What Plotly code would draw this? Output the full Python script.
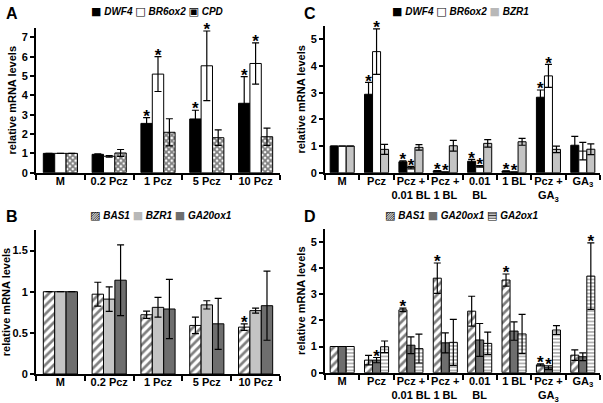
import plotly.graph_objects as go

# ---------------- data ----------------
A_cats = ["M", "0.2 Pcz", "1 Pcz", "5 Pcz", "10 Pcz"]
A_DWF4 = [1, 0.95, 2.55, 2.78, 3.59]
A_DWF4_err = [0, 0.03, 0.30, 0.45, 1.38]
A_BR6ox2 = [1, 0.85, 5.10, 5.53, 5.65]
A_BR6ox2_err = [0, 0.04, 0.90, 1.80, 1.07]
A_CPD = [1, 1.02, 2.09, 1.81, 1.86]
A_CPD_err = [0, 0.18, 0.70, 0.40, 0.45]
A_DWF4_sig = [0, 0, 1, 1, 1]
A_BR6ox2_sig = [0, 0, 1, 1, 1]
A_CPD_sig = [0, 0, 0, 0, 0]

B_cats = ["M", "0.2 Pcz", "1 Pcz", "5 Pcz", "10 Pcz"]
B_BAS1 = [1, 0.97, 0.72, 0.59, 0.57]
B_BAS1_err = [0, 0.145, 0.045, 0.10, 0.04]
B_BZR1 = [1, 0.91, 0.81, 0.84, 0.77]
B_BZR1_err = [0, 0.15, 0.12, 0.05, 0.03]
B_GA20ox1 = [1, 1.14, 0.79, 0.61, 0.83]
B_GA20ox1_err = [0, 0.43, 0.36, 0.31, 0.42]
B_BAS1_sig = [0, 0, 0, 0, 1]
B_BZR1_sig = [0, 0, 0, 0, 0]
B_GA20ox1_sig = [0, 0, 0, 0, 0]

CD_cats = ["M", "Pcz", "Pcz +<br>0.01 BL", "Pcz +<br>1 BL", "0.01<br>BL",
           "1 BL", "Pcz +<br>GA<sub>3</sub>", "GA<sub>3</sub>"]
C_DWF4 = [1, 2.94, 0.41, 0.07, 0.43, 0.06, 2.83, 1.03]
C_DWF4_err = [0, 0.45, 0.03, 0.01, 0.07, 0.01, 0.27, 0.33]
C_BR6ox2 = [1, 4.54, 0.19, 0.02, 0.24, 0.02, 3.63, 0.81]
C_BR6ox2_err = [0, 0.85, 0.05, 0.01, 0.03, 0.01, 0.43, 0.33]
C_BZR1 = [1, 0.875, 0.95, 1.01, 1.10, 1.16, 0.875, 0.88]
C_BZR1_err = [0, 0.19, 0.10, 0.20, 0.14, 0.13, 0.12, 0.20]
C_DWF4_sig = [0, 1, 1, 1, 1, 1, 1, 0]
C_BR6ox2_sig = [0, 1, 1, 1, 1, 1, 1, 0]
C_BZR1_sig = [0, 0, 0, 0, 0, 0, 0, 0]

D_BAS1 = [1, 0.48, 2.40, 3.61, 2.35, 3.54, 0.30, 0.67]
D_BAS1_err = [0, 0.18, 0.07, 0.58, 0.57, 0.23, 0.04, 0.20]
D_GA20ox1 = [1, 0.48, 1.05, 1.14, 1.25, 1.59, 0.19, 0.61]
D_GA20ox1_err = [0, 0.10, 0.32, 0.38, 0.63, 0.35, 0.07, 0.15]
D_GA2ox1 = [1, 0.99, 0.92, 1.16, 1.12, 1.48, 1.63, 3.69]
D_GA2ox1_err = [0, 0.22, 0.55, 0.88, 0.43, 0.75, 0.17, 1.27]
D_BAS1_sig = [0, 0, 1, 1, 0, 1, 1, 0]
D_GA20ox1_sig = [0, 1, 0, 0, 0, 0, 1, 0]
D_GA2ox1_sig = [0, 0, 0, 0, 0, 0, 0, 1]

# ---------------- styles ----------------
FONT = "Liberation Sans, Arial, sans-serif"
STY = {
    "DWF4": dict(color="black", pattern=None, sym="■", symcol="black"),
    "BR6ox2": dict(color="white", pattern=None, sym="□", symcol="black"),
    "CPD": dict(color="white", pattern=dict(shape="x", fgcolor="black", bgcolor="white",
                                            size=4, solidity=0.7), sym="▣", symcol="black"),
    "BZR1": dict(color="#c4c4c4", pattern=None, sym="■", symcol="#b8b8b8"),
    "GA20ox1": dict(color="#6e6e6e", pattern=None, sym="■", symcol="#6e6e6e"),
    "BAS1": dict(color="white", pattern=dict(shape="/", fgcolor="black", bgcolor="white",
                                             size=6, solidity=0.45), sym="▨", symcol="black"),
    "GA2ox1": dict(color="white", pattern=dict(shape="-", fgcolor="black", bgcolor="white",
                                               size=3.5, solidity=0.3), sym="▤", symcol="black"),
}

fig = go.Figure()

panels = [
    ("x", "y", A_cats, [("DWF4", A_DWF4, A_DWF4_err, A_DWF4_sig),
                        ("BR6ox2", A_BR6ox2, A_BR6ox2_err, A_BR6ox2_sig),
                        ("CPD", A_CPD, A_CPD_err, A_CPD_sig)]),
    ("x2", "y2", CD_cats, [("DWF4", C_DWF4, C_DWF4_err, C_DWF4_sig),
                           ("BR6ox2", C_BR6ox2, C_BR6ox2_err, C_BR6ox2_sig),
                           ("BZR1", C_BZR1, C_BZR1_err, C_BZR1_sig)]),
    ("x3", "y3", B_cats, [("BAS1", B_BAS1, B_BAS1_err, B_BAS1_sig),
                          ("BZR1", B_BZR1, B_BZR1_err, B_BZR1_sig),
                          ("GA20ox1", B_GA20ox1, B_GA20ox1_err, B_GA20ox1_sig)]),
    ("x4", "y4", CD_cats, [("BAS1", D_BAS1, D_BAS1_err, D_BAS1_sig),
                           ("GA20ox1", D_GA20ox1, D_GA20ox1_err, D_GA20ox1_sig),
                           ("GA2ox1", D_GA2ox1, D_GA2ox1_err, D_GA2ox1_sig)]),
]

for xa, ya, cats, series in panels:
    for gi, (name, vals, errs, sig) in enumerate(series):
        s = STY[name]
        marker = dict(color=s["color"], line=dict(color="black", width=1))
        if s["pattern"]:
            marker["pattern"] = s["pattern"]
        fig.add_trace(go.Bar(
            x=cats, y=vals, name=name, xaxis=xa, yaxis=ya, offsetgroup=str(gi),
            marker=marker, showlegend=False,
            error_y=dict(type="data", array=errs, visible=True, color="black",
                         thickness=1.2, width=3.5),
        ))
        sx = [c for c, g in zip(cats, sig) if g]
        sy = [v + e for v, e, g in zip(vals, errs, sig) if g]
        if sx:
            fig.add_trace(go.Scatter(
                x=sx, y=sy, mode="text", text=["*"] * len(sx),
                textposition="middle center", xaxis=xa, yaxis=ya, offsetgroup=str(gi),
                textfont=dict(family=FONT, size=17, color="black", weight="bold"),
                showlegend=False, hoverinfo="skip", cliponaxis=False,
            ))

xcommon = dict(type="category", showline=True, linecolor="black", linewidth=2,
               ticks="outside", tickson="boundaries", ticklen=5, tickwidth=1.5,
               tickcolor="black", showgrid=False, zeroline=False, tickangle=0,
               automargin=False, ticklabelstandoff=-3,
               tickfont=dict(family=FONT, size=11, color="black", weight="bold"))
ycommon = dict(showline=True, linecolor="black", linewidth=2, ticks="outside",
               ticklen=4, tickwidth=1.5, tickcolor="black", showgrid=False,
               zeroline=False, automargin=False,
               tickfont=dict(family=FONT, size=11, color="black", weight="bold"),
               title=dict(text="relative mRNA levels", standoff=3,
                          font=dict(family=FONT, size=11, color="black", weight="bold")))

W, H = 603, 403
def px_x(p):
    return p / W
def px_y(p):
    return 1 - p / H

fig.update_layout(
    width=W, height=H, margin=dict(l=0, r=0, t=0, b=0, autoexpand=False),
    paper_bgcolor="white", plot_bgcolor="white",
    barmode="group", bargap=0.3, bargroupgap=0, scattermode="group", scattergap=0.3,
    font=dict(family=FONT, color="black"),
    xaxis=dict(xcommon, domain=[px_x(36), px_x(280)], anchor="y",
               categoryorder="array", categoryarray=A_cats),
    yaxis=dict(ycommon, domain=[px_y(172.7), px_y(27.7)], range=[0, 7.5], dtick=1, anchor="x"),
    xaxis2=dict(xcommon, domain=[px_x(325), px_x(600)], anchor="y2",
                categoryorder="array", categoryarray=CD_cats),
    yaxis2=dict(ycommon, domain=[px_y(172.7), px_y(26)], range=[0, 5.5], dtick=1, anchor="x2"),
    xaxis3=dict(xcommon, domain=[px_x(36), px_x(280)], anchor="y3",
                categoryorder="array", categoryarray=B_cats),
    yaxis3=dict(ycommon, domain=[px_y(374), px_y(230)], range=[0, 1.75],
                tickvals=[0, 0.5, 1, 1.5], ticktext=["0", "0.5", "1", "1.5"], anchor="x3"),
    xaxis4=dict(xcommon, domain=[px_x(325), px_x(600)], anchor="y4",
                categoryorder="array", categoryarray=CD_cats),
    yaxis4=dict(ycommon, domain=[px_y(372.7), px_y(228.7)], range=[0, 5.5], dtick=1, anchor="x4"),
)

# panel letters
for letter, xp, yp in [("A", 4, 3), ("C", 302, 3), ("B", 4, 206), ("D", 302, 206)]:
    fig.add_annotation(text="<b>" + letter + "</b>", x=px_x(xp), y=px_y(yp), xref="paper",
                       yref="paper", xanchor="left", yanchor="top", showarrow=False,
                       font=dict(family=FONT, size=16, color="black"))

# legends (built from series names)
def legend_text(names):
    parts = []
    for n in names:
        s = STY[n]
        parts.append("<span style='color:%s;font-family:DejaVu Sans;font-size:11px'>%s</span> <b><i>%s</i></b>"
                     % (s["symcol"], s["sym"], n))
    return " ".join(parts)

for (xa, ya, cats, series), cx, cy in zip(panels, [157, 460, 161, 461], [12, 12, 215, 215]):
    fig.add_annotation(text=legend_text([s[0] for s in series]), x=px_x(cx), y=px_y(cy),
                       xref="paper", yref="paper", xanchor="center", yanchor="middle",
                       showarrow=False, font=dict(family=FONT, size=10, color="black"))

fig.write_html("out.html", config={"displayModeBar": False},
               post_script="document.body.style.margin='0';")
